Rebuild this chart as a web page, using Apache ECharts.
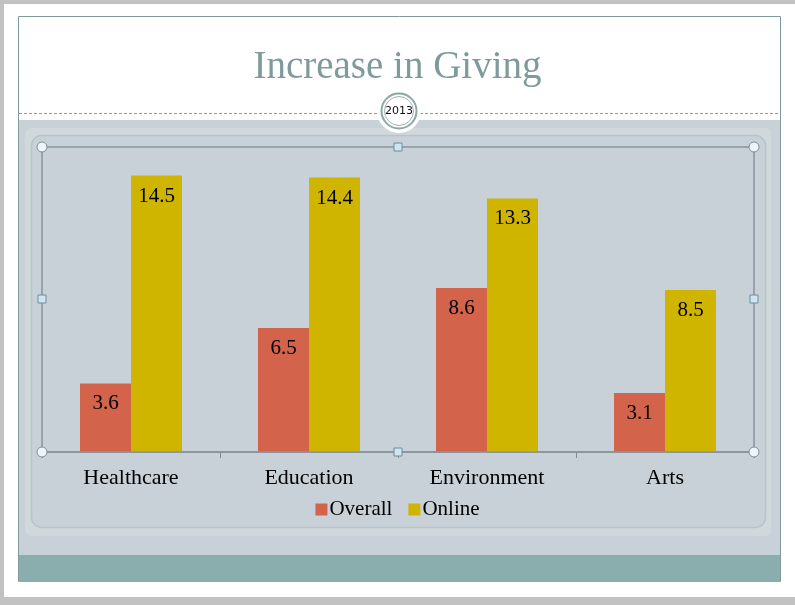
<!DOCTYPE html>
<html>
<head>
<meta charset="utf-8">
<script src="https://cdn.jsdelivr.net/npm/echarts@6/dist/echarts.min.js"></script>
<style>html,body{margin:0;padding:0;}#c{width:795px;height:605px;}</style>
</head>
<body>
<div id="c"></div>
<script>
var categories = ['Healthcare', 'Education', 'Environment', 'Arts'];
var overall = [3.6, 6.5, 8.6, 3.1];
var online = [14.5, 14.4, 13.3, 8.5];
var seriesNames = ['Overall', 'Online'];
var titleText = 'Increase in Giving';
var badgeText = '2013';

var chart = echarts.init(document.getElementById('c'), null, {renderer: 'canvas'});
var serif = '"Liberation Serif", "DejaVu Serif", serif';

function handleCircle(x, y) {
  return {type: 'circle', shape: {cx: x, cy: y, r: 5}, style: {fill: '#eef5f8', stroke: '#7d8e98', lineWidth: 1}, z: 100};
}
function handleSquare(x, y) {
  return {type: 'rect', shape: {x: x - 4, y: y - 4, width: 8, height: 8}, style: {fill: '#cfe6f1', stroke: '#6d8c9c', lineWidth: 1}, z: 100};
}

var graphics = [
  {type: 'rect', shape: {x: 4, y: 4, width: 791, height: 593}, style: {fill: '#ffffff'}, z: -10},
  {type: 'rect', shape: {x: 18.5, y: 16.5, width: 762, height: 565}, style: {fill: '#ffffff', stroke: '#7f9a9a', lineWidth: 1}, z: -9},
  {type: 'rect', shape: {x: 19, y: 120, width: 761, height: 435}, style: {fill: '#c7d1d7'}, z: -8},
  {type: 'rect', shape: {x: 19, y: 555, width: 761, height: 27}, style: {fill: '#8aadad'}, z: -8},
  {type: 'line', shape: {x1: 19, y1: 113.5, x2: 378, y2: 113.5}, style: {stroke: '#8a9c9c', lineWidth: 1, lineDash: [3, 2]}, z: -7},
  {type: 'line', shape: {x1: 420, y1: 113.5, x2: 780, y2: 113.5}, style: {stroke: '#8a9c9c', lineWidth: 1, lineDash: [3, 2]}, z: -7},
  {type: 'rect', shape: {x: 25, y: 128, width: 746, height: 408, r: 6}, style: {fill: '#d0d8dc'}, z: -7},
  {type: 'rect', shape: {x: 31.5, y: 135.5, width: 734, height: 392, r: 10}, style: {fill: '#c7d1d7', stroke: '#b9c4ca', lineWidth: 1.5}, z: -6},
  {type: 'circle', shape: {cx: 399, cy: 111, r: 22}, style: {fill: '#ffffff'}, z: -5},
  {type: 'circle', shape: {cx: 399, cy: 111, r: 17.5}, style: {fill: '#ffffff', stroke: '#8fa5a5', lineWidth: 2}, z: -4},
  {type: 'circle', shape: {cx: 399, cy: 111, r: 14.5}, style: {fill: '#ffffff', stroke: '#9fb2b2', lineWidth: 1}, z: -4},
  {type: 'text', x: 399, y: 111, style: {text: badgeText, fill: '#111111', font: '11px "DejaVu Sans", sans-serif', textAlign: 'center', textVerticalAlign: 'middle'}, z: -3},
  {type: 'rect', shape: {x: 42, y: 147, width: 712, height: 305}, style: {fill: 'none', stroke: '#8595a0', lineWidth: 1.5}, z: 50},
  handleCircle(42, 147), handleCircle(754, 147), handleCircle(42, 452), handleCircle(754, 452),
  handleSquare(398, 147), handleSquare(42, 299), handleSquare(754, 299), handleSquare(398, 452)
];

chart.setOption({
  backgroundColor: '#c2c2c2',
  animation: false,
  title: {
    text: titleText, left: 'center', top: 43,
    textStyle: {fontFamily: serif, fontSize: 39, fontWeight: 'normal', color: '#7f9a9a'}
  },
  legend: {
    data: seriesNames, bottom: 80, left: 'center',
    icon: 'rect', itemWidth: 12, itemHeight: 12, itemGap: 16,
    textStyle: {fontFamily: serif, fontSize: 21, color: '#000000', padding: [0, 0, 0, -3]}
  },
  grid: {left: 42, right: 41, top: 147, bottom: 153, containLabel: false},
  xAxis: {
    type: 'category', data: categories,
    axisLine: {lineStyle: {color: '#7f8b93', width: 1.5}},
    axisTick: {show: true, alignWithLabel: false, length: 6, lineStyle: {color: '#7f8b93'}},
    axisLabel: {fontFamily: serif, fontSize: 22, color: '#000000', margin: 15}
  },
  yAxis: {type: 'value', min: 0, max: 16, show: false, splitLine: {show: false}},
  graphic: graphics,
  series: [
    {
      name: seriesNames[0], type: 'bar', data: overall, barWidth: 51, barGap: '0%',
      itemStyle: {color: '#d3634a'},
      label: {show: true, position: 'insideTop', distance: 10, fontFamily: serif, fontSize: 21, color: '#000000'}
    },
    {
      name: seriesNames[1], type: 'bar', data: online, barWidth: 51, barGap: '0%',
      itemStyle: {color: '#cfb400'},
      label: {show: true, position: 'insideTop', distance: 10, fontFamily: serif, fontSize: 21, color: '#000000'}
    }
  ]
});
</script>
</body>
</html>
